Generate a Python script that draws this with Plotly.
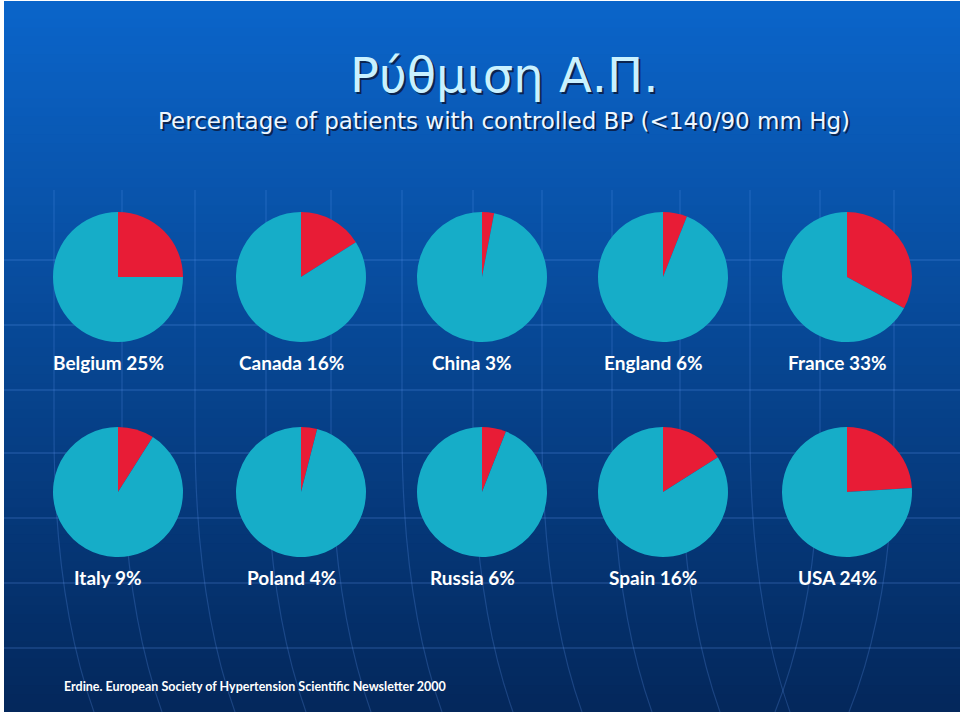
import plotly.graph_objects as go

# Data
countries = ["Belgium", "Canada", "China", "England", "France",
             "Italy", "Poland", "Russia", "Spain", "USA"]
controlled = [25, 16, 3, 6, 33, 9, 4, 6, 16, 24]

title_text = "Ρύθμιση Α.Π."
subtitle_text = "Percentage of patients with controlled BP (<140/90 mm Hg)"
source_text = "Erdine. European Society of Hypertension Scientific Newsletter 2000"

W, H = 960, 716
RED = "#e81c36"
CYAN = "#16adc8"

# pie grid in pixels (centre x per column, centre y per row)
col_x = [118, 301, 482, 663, 847]
row_y = [277, 492]
radius = 65
label_dy = 85


def px(x):
    return x / W


def py(y):
    # pixel from top -> paper from bottom
    return 1 - y / H


fig = go.Figure()

for i, (name, pct) in enumerate(zip(countries, controlled)):
    cx = col_x[i % 5]
    cy = row_y[i // 5]
    fig.add_trace(go.Pie(
        values=[pct, 100 - pct],
        labels=["Controlled", "Not controlled"],
        marker=dict(colors=[RED, CYAN], line=dict(width=0)),
        textinfo="none",
        hoverinfo="label+percent",
        sort=False,
        direction="clockwise",
        rotation=0,
        showlegend=False,
        domain=dict(x=[px(cx - radius), px(cx + radius)],
                    y=[py(cy + radius), py(cy - radius)]),
    ))
    fig.add_annotation(
        x=px(cx - 10), y=py(cy + label_dy), xref="paper", yref="paper",
        xanchor="center", yanchor="middle",
        text=f"{name} {pct}%", showarrow=False,
        font=dict(family="Lato", size=19, color="white", weight="bold"),
    )

# background: vertical gradient, each band runs to the bottom so no seams show
shapes = []
top_c = (11, 101, 202)
bot_c = (4, 40, 92)
n = 80
y0, y1 = 1, 712
for k in range(n):
    t = k / (n - 1)
    c = tuple(int(a + (b - a) * t) for a, b in zip(top_c, bot_c))
    ya = y0 + (y1 - y0) * k / n
    shapes.append(dict(type="rect", xref="paper", yref="paper", layer="below",
                       x0=px(4), x1=1, y0=py(y1), y1=py(ya),
                       fillcolor=f"rgb{c}", line=dict(width=0)))

grid_col = "rgba(110,165,255,0.22)"
for gy in [260, 325, 390, 453, 518, 583, 648]:
    shapes.append(dict(type="line", xref="paper", yref="paper", layer="below",
                       x0=px(4), x1=1, y0=py(gy), y1=py(gy),
                       line=dict(color=grid_col, width=1.5)))
for gx in [54, 122, 195, 266, 331, 402, 473, 542, 612, 680, 750, 820, 894]:
    dx = 40 if gx < 760 else -45
    shapes.append(dict(type="path", xref="paper", yref="paper", layer="below",
                       path=(f"M {px(gx)},{py(190)} L {px(gx)},{py(430)} "
                             f"Q {px(gx)},{py(600)} {px(gx + dx)},{py(712)}"),
                       line=dict(color=grid_col, width=1.2)))

# titles with drop shadow
for txt, y, size, fill in [(title_text, 75, 48, "#c9f1ff"),
                           (subtitle_text, 121, 23, "#eef7ff")]:
    for dx, dy, col in [(2, 2, "#0a2450"), (0, 0, fill)]:
        fig.add_annotation(x=px(504 + dx), y=py(y + dy), xref="paper", yref="paper",
                           xanchor="center", yanchor="middle",
                           text=txt, showarrow=False,
                           font=dict(family="DejaVu Sans", size=size, color=col))

fig.add_annotation(x=px(62), y=py(686), xref="paper", yref="paper",
                   xanchor="left", yanchor="middle", text=source_text, showarrow=False,
                   font=dict(family="Lato", size=12.5, color="white", weight="bold"))

fig.update_layout(
    width=W, height=H,
    margin=dict(l=0, r=0, t=0, b=0),
    paper_bgcolor="white",
    plot_bgcolor="white",
    shapes=shapes,
)

fig.write_html("out.html", config={"displayModeBar": False},
               post_script="document.body.style.margin='0';")
